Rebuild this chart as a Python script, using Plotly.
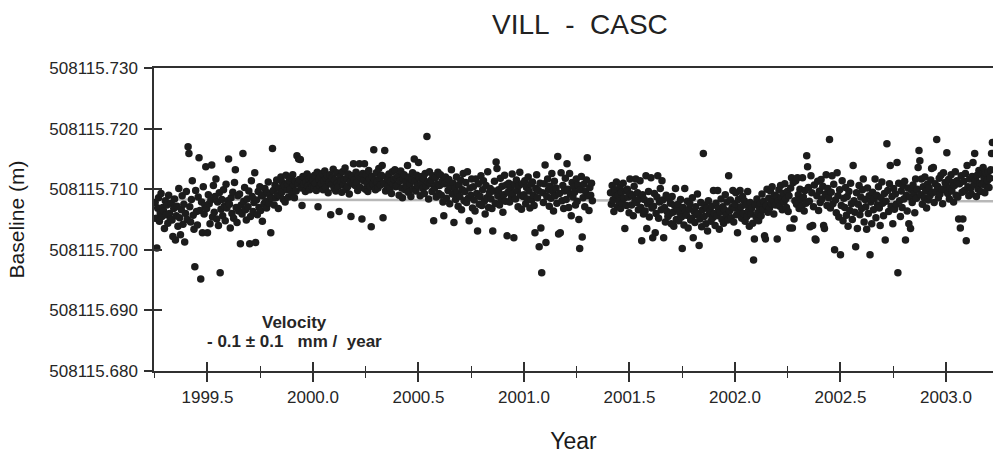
import plotly.graph_objects as go

# Baseline values are stored in mm above BASE (m)
BASE = 508115.700
STEP = 0.004  # sampling interval (years)

start_1999 = 1999.252
y1999 = [
    7.8, 5.2, 0.3, 6.9, 8.6, 4.7, 6.1, 9.3, 5.5, 7.0,
    6.4, 3.5, 8.1, 5.8, 7.4, 4.4, 9.0, 6.0, 5.1, 7.7,
    4.9, 2.2, 6.8, 8.4, 1.6, 5.6, 7.2, 3.9, 10.1, 5.3,
    2.5, 6.6, 8.9, 4.2, 7.5, 1.3, 6.0, 9.6, 5.0, 17.0,
    15.9, 7.1, 4.6, 8.3, 11.4, 5.7, 3.4, -2.8, 9.8, 6.3,
    4.1, 8.7, 15.2, 6.5, -4.8, 7.9, 2.8, 10.4, 5.9, 7.3,
    13.7, 6.8, 2.8, 9.1, 7.6, 4.3, 8.2, 14.0, 5.4, 10.6,
    6.2, 8.8, 11.7, 5.1, 7.9, 4.0, 9.4, -3.8, 6.7, 8.3,
    5.6, 9.9, 7.2, 4.8, 10.8, 6.9, 8.1, 15.0, 7.5, 3.6,
    8.6, 6.0, 9.5, 5.2, 11.1, 13.2, 7.0, 4.5, 8.9, 6.4,
    9.2, 1.0, 7.4, 5.9, 15.9, 8.0, 10.3, 6.6, 4.9, 8.4,
    7.1, 9.7, 1.0, 5.5, 11.4, 8.8, 6.3, 7.8, 12.7, 1.2,
    8.2, 5.8, 9.6, 7.0, 10.4, 6.5, 8.9, 4.7, 9.1, 7.6,
    10.1, 8.0, 6.9, 9.4, 11.2, 7.7, 9.0, 2.8, 8.5, 16.7,
    9.8, 7.4, 10.7, 8.6, 11.5, 9.1, 6.8, 10.2, 8.9, 12.0,
    9.5, 11.1, 8.3, 10.6, 7.9, 12.3, 9.9, 10.8, 8.7, 11.4,
    10.0, 11.8, 9.2, 12.4, 10.7, 8.6, 11.3, 9.7, 15.5, 10.9,
    15.0, 11.6, 14.9, 10.2, 7.3, 12.1, 10.8, 11.9, 9.6, 11.2,
    12.5, 10.5, 11.7, 9.9, 12.0, 11.0, 10.4,
]

start_2000 = 2000.000
y2000 = [
    11.5, 10.2, 12.3, 11.0, 9.8, 12.8, 7.1, 11.7, 10.6, 12.1,
    10.9, 12.6, 9.9, 11.4, 13.0, 10.3, 11.8, 12.2, 9.4, 11.1,
    12.4, 5.8, 10.8, 11.9, 13.3, 10.1, 11.5, 9.7, 12.7, 11.0,
    10.5, 6.3, 12.0, 11.3, 9.5, 12.9, 10.7, 11.6, 13.5, 10.0,
    11.8, 10.4, 12.5, 9.2, 11.2, 5.5, 12.2, 10.9, 14.2, 11.5,
    10.6, 12.8, 11.1, 9.8, 12.3, 14.2, 10.3, 11.9, 5.1, 12.6,
    11.4, 14.2, 10.0, 12.4, 11.0, 9.6, 13.1, 11.7, 10.4, 3.8,
    12.1, 10.8, 16.5, 11.5, 9.9, 12.7, 11.2, 10.2, 13.4, 11.8,
    10.7, 12.3, 13.9, 5.3, 11.0, 16.4, 9.7, 12.0, 10.5, 11.6,
    12.5, 10.1, 11.3, 9.3, 12.9, 10.8, 11.7, 13.2, 10.4, 11.9,
    10.6, 12.2, 9.0, 11.4, 13.0, 10.2, 8.6, 11.8, 12.4, 9.9,
    11.1, 10.3, 13.9, 9.5, 12.0, 10.9, 8.8, 11.6, 12.7, 10.0,
    15.0, 11.3, 9.7, 12.3, 10.6, 14.4, 11.9, 8.9, 10.8, 12.1,
    10.1, 11.7, 9.3, 12.6, 10.5, 18.7, 11.2, 8.4, 12.9, 10.9,
    11.5, 9.6, 12.2, 4.8, 10.2, 11.9, 8.7, 10.8, 12.8, 9.3,
    10.6, 12.4, 9.0, 11.3, 7.9, 5.6, 10.9, 12.0, 8.5, 11.2,
    9.8, 11.6, 7.6, 10.4, 13.2, 9.2, 11.0, 4.5, 10.1, 8.3,
    12.0, 9.4, 7.2, 10.7, 8.8, 11.5, 6.6, 9.9, 12.6, 8.1,
    9.6, 11.1, 7.8, 12.9, 8.5, 4.8, 10.2, 9.0, 11.7, 6.9,
    10.4, 8.2, 6.4, 11.7, 9.3, 3.1, 10.9, 7.5, 8.8, 12.2,
    7.3, 9.9, 11.4, 8.0, 5.9, 10.6, 8.6, 12.9, 7.0, 9.4,
    10.1, 8.4, 6.8, 3.1, 9.7, 11.3, 7.7, 14.5, 13.4, 8.9,
    9.9, 7.4, 11.8, 8.3, 10.5, 6.2, 9.1, 12.3, 8.0, 10.7,
    2.3, 9.5, 11.0, 7.9, 10.2, 8.7, 12.5, 9.3, 2.0, 10.8,
    8.4, 11.5, 9.8, 7.1, 10.6, 12.8, 9.0, 6.7, 10.9, 8.8,
]

start_2001a = 2001.000
y2001a = [
    9.1, 11.4, 7.6, 10.3, 8.4, 12.0, 9.7, 6.9, 10.8, 8.2,
    11.2, 9.0, 7.3, 2.8, 10.1, 12.4, 8.6, 9.8, 0.5, 11.0,
    3.6, -3.8, 9.4, 7.8, 10.9, 14.0, 1.2, 8.8, 11.7, 9.9,
    7.2, 10.5, 8.5, 12.6, 9.6, 6.4, 11.3, 8.9, 10.2, 7.7,
    15.4, 2.6, 9.3, 2.8, 12.7, 8.1, 10.6, 6.8, 9.7, 11.8,
    8.3, 14.2, 10.0, 7.0, 12.6, 9.2, 5.6, 11.1, 8.7, 10.4,
    9.5, 7.4, 11.7, 8.0, 10.7, 5.0, 0.2, 9.9, 12.1, 2.1,
    8.6, 10.8, 7.1, 9.6, 11.5, 15.2, 8.9, 6.5, 10.3, 9.0,
    11.0, 8.1,
]

start_2001b = 2001.410
y2001b = [
    9.4, 7.5, 10.6, 8.2, 6.3, 9.9, 8.8, 11.2, 7.1, 9.0,
    8.0, 10.3, 6.8, 9.5, 7.7, 11.0, 8.5, 3.5, 9.8, 7.3,
    10.0, 8.7, 6.1, 11.7, 9.2, 7.4, 8.9, 5.6, 10.5, 8.1,
    11.7, 7.8, 9.4, 6.6, 8.4, 11.4, 7.0, 1.5, 9.1, 5.9,
    8.3, 6.4, 12.2, 3.5, 7.6, 9.6, 5.4, 8.0, 11.9, 6.9,
    2.0, 7.2, 9.3, 2.8, 6.0, 8.7, 12.2, 5.2, 7.9, 10.1,
    6.6, 11.4, 8.2, 2.0, 7.0, 4.6, 9.0, 6.3, 5.5, 8.5,
    5.9, 7.7, 4.3, 8.8, 6.2, 3.9, 7.3, 10.1, 5.0, 6.8,
    7.5, 4.8, 6.1, 8.3, 5.4, 0.2, 7.0, 4.1, 10.1, 6.4,
    5.7, 8.0, 3.6, 6.7, 7.6, 4.9, 5.2, 8.6, 2.0, 6.3,
    4.5, 7.1, 5.8, 9.2, 6.0, 0.7, 5.1, 7.8, 3.8, 6.6,
    15.9, 5.5, 7.4, 4.3, 6.9, 3.1, 8.1, 5.9, 6.4, 4.7,
    7.2, 5.3, 9.8, 6.0, 4.0, 7.7, 5.6, 9.8, 6.8, 3.4,
    6.2, 8.4, 5.0, 7.1, 4.4, 6.6, 9.1, 5.7, 7.9, 4.9,
    12.2, 6.4, 8.2, 5.3, 7.0, 9.8, 4.6, 6.9,
]

start_2002 = 2002.000
y2002 = [
    7.6, 9.4, 5.8, 2.8, 8.3, 6.5, 9.8, 7.1, 5.2, 8.8,
    6.0, 8.1, 4.7, 7.4, 5.5, 9.6, 6.4, 3.9, 7.8, 5.9,
    6.9, 4.4, -1.7, 1.8, 7.5, 5.4, 8.4, 6.1, 4.8, 7.0,
    7.7, 5.6, 9.2, 6.6, 8.0, 2.3, 1.8, 7.3, 10.0, 6.2,
    8.5, 6.9, 9.7, 7.6, 10.4, 8.2, 5.9, 9.0, 7.4, 8.8,
    1.8, 8.0, 9.9, 7.2, 10.6, 8.6, 6.6, 9.3, 7.9, 10.9,
    8.4, 7.0, 9.6, 6.3, 8.9, 3.6, 10.2, 11.9, 3.6, 11.1,
    5.1, 8.1, 11.4, 7.5, 11.9, 9.1, 6.8, 10.0, 8.3, 7.2,
    11.9, 8.7, 6.4, 9.8, 7.7, 15.5, 13.7, 10.3, 8.0, 3.8,
    12.2, 9.4, 4.0, 7.1, 10.7, 1.8, 1.6, 8.9, 11.3, 6.5,
    9.7, 7.8, 11.6, 8.4, 10.5, 4.0, 3.5, 9.2, 12.4, 7.3,
    10.1, 8.6, 18.2, 6.9, 9.5, 12.2, 7.6, 10.8, 0.0, 8.2,
    6.1, 12.7, 8.9, 5.4, 9.9, -0.8, 7.3, 11.4, 4.8, 8.5,
    7.0, 10.3, 5.7, 8.8, 3.9, 9.6, 6.5, 11.0, 7.6, 5.0,
    13.9, 8.1, 6.2, 0.5, 9.4, 3.5, 7.5, 10.6, 5.8, 8.7,
    6.8, 9.9, 11.7, 4.6, 8.3, 7.1, 3.4, 10.2, 6.0, 8.9,
    -0.8, 7.9, 4.3, 9.5, 6.6, 8.4, 11.7, 5.3, 9.0, 7.4,
    10.4, 6.9, 4.0, 8.6, 11.2, 7.7, 5.6, 9.3, 1.6, 8.0,
    17.5, 9.8, 6.3, 10.9, 13.9, 7.2, 8.8, 4.3, 10.1, 6.7,
    9.2, 7.5, 14.4, -3.8, 11.0, 8.1, 5.5, 9.7, 7.0, 10.6,
    8.4, 11.3, 1.6, 9.0, 6.4, 10.2, 4.3, 8.7, 3.5, 9.9,
    7.8, 10.7, 9.3, 6.1, 11.7, 8.5, 10.0, 13.6, 16.4, 14.7,
    9.1, 11.7, 7.5, 10.4, 8.6, 12.0, 9.7, 6.9, 10.8, 8.2,
    10.2, 8.9, 11.5, 13.4, 9.4, 13.6, 7.8, 10.9, 9.6, 18.2,
    10.5, 8.6, 11.8, 9.2, 12.3, 10.0, 7.6, 12.7, 9.9, 11.1,
]

start_2003 = 2003.000
y2003 = [
    10.8, 16.0, 9.3, 11.6, 8.4, 10.2, 12.4, 9.7, 11.1, 7.9,
    10.6, 12.9, 9.0, 11.4, 8.7, 5.1, 10.9, 3.6, 12.2, 9.5,
    5.1, 11.3, 9.8, 12.6, 1.5, 13.9, 10.4, 8.9, 11.7, 10.1,
    9.2, 12.1, 14.4, 10.7, 15.9, 11.5, 8.8, 12.3, 10.0, 13.1,
    11.0, 9.6, 12.5, 10.8, 13.6, 11.9, 9.4, 12.7, 10.5, 11.4,
    12.9, 10.3, 11.8, 13.2, 15.9, 17.7,
]

# Fitted trend (velocity -0.1 mm/yr), mm above BASE
trend_years = [1999.2465, 2003.2228]
trend_mm = [8.3, 8.0]

x_tick_vals = [1999.5, 2000.0, 2000.5, 2001.0, 2001.5, 2002.0, 2002.5, 2003.0]
x_tick_text = ["1999.5", "2000.0", "2000.5", "2001.0", "2001.5", "2002.0", "2002.5", "2003.0"]
x_minor_vals = [1999.25, 1999.75, 2000.25, 2000.75, 2001.25, 2001.75, 2002.25, 2002.75]
y_tick_mm = [-20, -10, 0, 10, 20, 30]
y_tick_text = ["508115.680", "508115.690", "508115.700", "508115.710", "508115.720", "508115.730"]

segments = [
    (start_1999, y1999), (start_2000, y2000), (start_2001a, y2001a),
    (start_2001b, y2001b), (start_2002, y2002), (start_2003, y2003),
]
xs, ys = [], []
for start, vals in segments:
    for i, v in enumerate(vals):
        xs.append(start + i * STEP)
        ys.append(BASE + v / 1000.0)

FONT = "Liberation Sans, Arial, Helvetica, sans-serif"
TXT = "#262626"
AX = "#303030"
x_range = [1999.2465, 2003.2228]
y_range = [BASE - 0.020, BASE + 0.030]
y_tick_vals = [BASE + m / 1000.0 for m in y_tick_mm]

fig = go.Figure()
fig.add_trace(go.Scatter(
    x=trend_years, y=[BASE + m / 1000.0 for m in trend_mm], mode="lines",
    line=dict(color="#b8b8b8", width=2.5), hoverinfo="skip", showlegend=False))
fig.add_trace(go.Scatter(
    x=xs, y=ys, mode="markers",
    marker=dict(size=7.5, color="#1c1c1c", line=dict(width=0)), showlegend=False))
fig.add_trace(go.Scatter(x=[None], y=[None], xaxis="x2", yaxis="y2",
                         mode="markers", showlegend=False, hoverinfo="skip"))

fig.update_layout(
    width=993, height=454,
    margin=dict(l=154, r=0, t=68, b=83, pad=0),
    paper_bgcolor="white", plot_bgcolor="white",
    font=dict(family=FONT, color=TXT),
    title=dict(text="VILL\u00a0\u00a0-\u00a0\u00a0CASC", x=0.584, xref="container", xanchor="center",
               y=1 - 24 / 454, yref="container", yanchor="middle",
               font=dict(size=28, color="#222222", family=FONT)),
    xaxis=dict(
        range=x_range, tickmode="array", tickvals=x_tick_vals, ticktext=x_tick_text,
        ticks="outside", ticklen=9, tickwidth=1.5, tickcolor=AX,
        showline=True, linecolor=AX, linewidth=1.5, mirror=True,
        showgrid=False, zeroline=False, ticklabelstandoff=1,
        tickfont=dict(size=17, color=TXT),
        minor=dict(tickmode="array", tickvals=x_minor_vals, ticks="outside", ticklen=5,
                   tickwidth=1.2, tickcolor=AX, showgrid=False),
        title=dict(text="Year", font=dict(size=23, color="#1a1a1a"), standoff=28),
    ),
    xaxis2=dict(
        range=x_range, overlaying="x", anchor="y", side="bottom",
        tickmode="array", tickvals=x_tick_vals, ticks="inside", ticklen=9, tickwidth=1.5,
        tickcolor=AX, showticklabels=False, showline=False, showgrid=False, zeroline=False,
        minor=dict(tickmode="array", tickvals=x_minor_vals, ticks="inside", ticklen=5,
                   tickwidth=1.2, tickcolor=AX, showgrid=False),
    ),
    yaxis=dict(
        range=y_range, tickmode="array", tickvals=y_tick_vals, ticktext=y_tick_text,
        ticks="outside", ticklen=8, tickwidth=1.5, tickcolor=AX,
        showline=True, linecolor=AX, linewidth=1.5,
        showgrid=False, zeroline=False, ticklabelstandoff=3,
        tickfont=dict(size=17, color=TXT),
        title=dict(text="Baseline (m)", font=dict(size=21, color="#1a1a1a"), standoff=19),
    ),
    yaxis2=dict(
        range=y_range, overlaying="y", anchor="x", side="left",
        tickmode="array", tickvals=y_tick_vals, ticks="inside", ticklen=8, tickwidth=1.5,
        tickcolor=AX, showticklabels=False, showline=False, showgrid=False, zeroline=False,
    ),
    annotations=[
        dict(text="<b>Velocity</b>", xref="paper", yref="paper", x=0.168, y=(371 - 322) / 303,
             xanchor="center", yanchor="middle", showarrow=False,
             font=dict(size=17, color="#262626")),
        dict(text="<b>- 0.1 \u00b1 0.1\u00a0\u00a0\u00a0mm /\u00a0\u00a0year</b>", xref="paper", yref="paper",
             x=0.168, y=(371 - 341) / 303, xanchor="center", yanchor="middle", showarrow=False,
             font=dict(size=17, color="#262626")),
    ],
)

fig.write_html("out.html")
